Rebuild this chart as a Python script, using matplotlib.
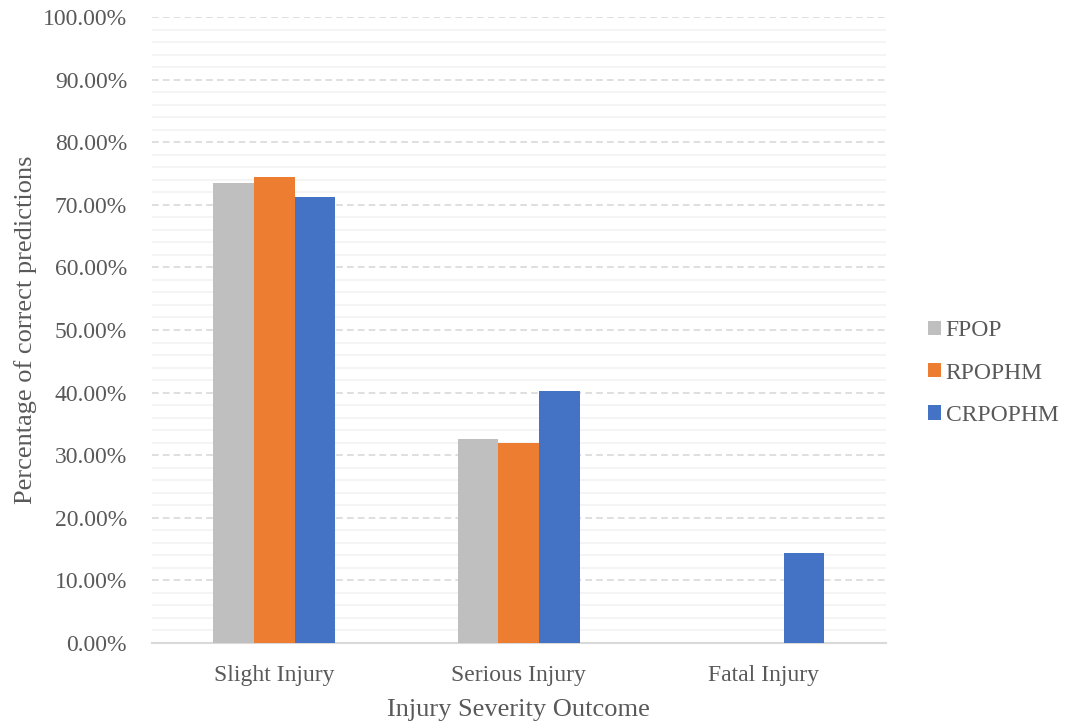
import numpy as np
import matplotlib.pyplot as plt
from matplotlib.ticker import MultipleLocator, FuncFormatter

categories = ['Slight Injury', 'Serious Injury', 'Fatal Injury']
series_names = ['FPOP', 'RPOPHM', 'CRPOPHM']
fpop = [0.735, 0.326, 0.0]
rpophm = [0.744, 0.319, 0.0]
crpophm = [0.712, 0.403, 0.144]
colors = ['#BFBFBF', '#ED7D31', '#4472C4']

plt.rcParams['font.family'] = ['Liberation Serif', 'DejaVu Serif']
text_color = '#595959'

fig = plt.figure(figsize=(10.67, 7.26), dpi=100)
ax = fig.add_axes([0.1425, 0.1143, 0.6875, 0.8623])

x = np.arange(len(categories))
width = 0.1667
for i, (vals, name, col) in enumerate(zip([fpop, rpophm, crpophm], series_names, colors)):
    ax.bar(x + (i - 1) * width, vals, width, color=col, label=name, zorder=3)

ax.set_xlim(-0.5, 2.5)
ax.set_ylim(0, 1.0)
ax.yaxis.set_major_locator(MultipleLocator(0.1))
ax.yaxis.set_minor_locator(MultipleLocator(0.02))
ax.yaxis.set_major_formatter(FuncFormatter(lambda v, p: f'{v * 100:.2f}%'))
ax.grid(axis='y', which='minor', color='#F2F2F2', linewidth=1.2, zorder=0)
ax.grid(axis='y', which='major', color='#D9D9D9', linewidth=1.2, linestyle=(0, (4, 2.5)), zorder=1)

ax.set_xticks(x)
ax.set_xticklabels(categories)
ax.tick_params(axis='both', which='both', length=0, labelsize=17, colors=text_color)
ax.tick_params(axis='x', pad=16)
ax.tick_params(axis='y', pad=18)

for s in ['top', 'right', 'left']:
    ax.spines[s].set_visible(False)
ax.spines['bottom'].set_color('#D9D9D9')
ax.spines['bottom'].set_linewidth(1.5)

ax.set_xlabel('Injury Severity Outcome', fontsize=19, color=text_color, labelpad=9)
ax.set_ylabel('Percentage of correct predictions', fontsize=19, color=text_color, labelpad=4)

leg = ax.legend(loc='center left', bbox_to_anchor=(1.045, 0.431), frameon=False,
                fontsize=17, handlelength=0.55, handleheight=0.55, handletextpad=0.2,
                labelspacing=0.9, borderaxespad=0)
for t in leg.get_texts():
    t.set_color(text_color)

fig.savefig('out.png', dpi=100)
